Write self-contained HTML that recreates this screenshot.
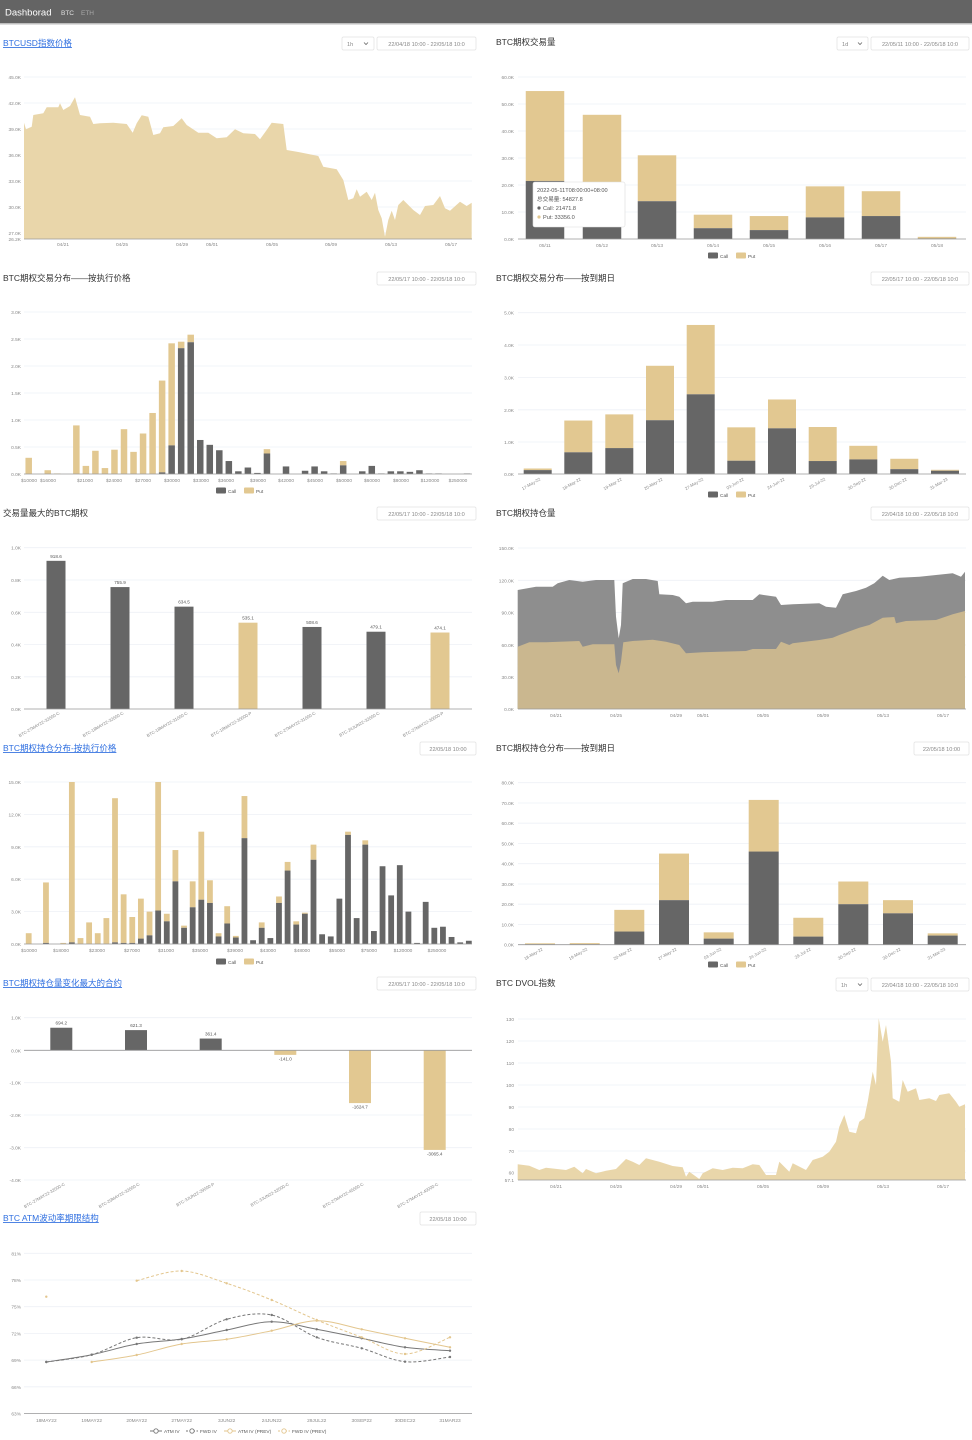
<!DOCTYPE html>
<html><head><meta charset="utf-8">
<style>
html,body{margin:0;padding:0;background:#fff;}
body{width:972px;height:1440px;overflow:hidden;position:relative;font-family:"Liberation Sans","Noto Sans CJK SC",sans-serif;}
svg{position:absolute;left:0;top:0;}
</style></head>
<body>
<svg id="s" width="972" height="1440" viewBox="0 0 972 1440" xmlns="http://www.w3.org/2000/svg" font-family="Liberation Sans, Noto Sans CJK SC, sans-serif">
<rect x="0" y="0" width="972" height="23" fill="#646464"/>
<rect x="0" y="23" width="972" height="1.5" fill="#bdbdbd"/>
<text x="5" y="15.5" font-size="9.5" fill="#fff">Dashborad</text>
<text x="61" y="15" font-size="6.5" fill="#e0e0e0">BTC</text>
<text x="81" y="15" font-size="6.5" fill="#a8a8a8">ETH</text>
<g id="g"></g>
</svg>
<script>
const NS="http://www.w3.org/2000/svg",G=document.getElementById('g');
function el(t,a,txt){const e=document.createElementNS(NS,t);for(const k in a)e.setAttribute(k,a[k]);if(txt!==undefined)e.textContent=txt;G.appendChild(e);return e;}
const CALL="#666666",PUT="#e2c891",GRID="#eef0f6",AX="#9a9a9a",TK="#888";
function title(x,y,t,link){el('text',{x:x,y:y,'font-size':8.5,fill:link?'#2f6fe0':'#333','text-decoration':link?'underline':'none'},t);}
function box(x1,x2,y,t){el('rect',{x:x1,y:y,width:x2-x1,height:13,fill:'#fff',stroke:'#e2e2e2','stroke-width':.7,rx:1.5});el('text',{x:(x1+x2)/2,y:y+8.8,'font-size':5.6,fill:'#888','text-anchor':'middle'},t);}
function sel(x1,x2,y,t){el('rect',{x:x1,y:y,width:x2-x1,height:13,fill:'#fff',stroke:'#e2e2e2','stroke-width':.7,rx:1.5});el('text',{x:x1+5,y:y+8.8,'font-size':5.6,fill:'#888'},t);el('path',{d:`M${x2-10} ${y+5.5} l2 2 l2 -2`,stroke:'#666',fill:'none','stroke-width':.8});}
function yaxis(xl,x1,x2,ticks){ticks.forEach(([y,t])=>{el('line',{x1:x1,x2:x2,y1:y,y2:y,stroke:GRID,'stroke-width':.8});el('text',{x:xl,y:y+2,'font-size':4.8,fill:TK,'text-anchor':'end'},t);});}
function base(x1,x2,y){el('line',{x1:x1,x2:x2,y1:y,y2:y,stroke:AX,'stroke-width':.8});}
function xl(x,y,t){el('text',{x:x,y:y,'font-size':4.8,fill:TK,'text-anchor':'middle'},t);}
function xr(x,y,t){el('text',{x:x,y:y,'font-size':4.3,fill:TK,'text-anchor':'end',transform:`rotate(-30 ${x} ${y})`},t);}
function legend(cx,y){el('rect',{x:cx-27,y:y-3.5,width:10,height:6,fill:CALL,rx:1});el('text',{x:cx-15,y:y+2,'font-size':4.8,fill:'#555'},'Call');el('rect',{x:cx+1,y:y-3.5,width:10,height:6,fill:PUT,rx:1});el('text',{x:cx+13,y:y+2,'font-size':4.8,fill:'#555'},'Put');}
function area(pts,ox,oy,by,fill){let d=`M${ox+pts[0][0]/3} ${by}`;pts.forEach(p=>d+=` L${(ox+p[0]/3).toFixed(1)} ${(oy+p[1]/3).toFixed(1)}`);d+=` L${ox+pts[pts.length-1][0]/3} ${by} Z`;el('path',{d:d,fill:fill});}
function stack(cx,w,by,sc,c,t){if(t>c)el('rect',{x:cx-w/2,y:by-t*sc,width:w,height:(t-c)*sc,fill:PUT});if(c>0)el('rect',{x:cx-w/2,y:by-c*sc,width:w,height:c*sc,fill:CALL});}

/* Panel 1 BTCUSD */
title(3,46,'BTCUSD指数价格',true);sel(342,374,37,'1h');box(377,476,37,'22/04/18 10:00 - 22/05/18 10:0');
yaxis(21,24,472,[[77,'45.0K'],[103,'42.0K'],[129,'39.0K'],[155,'36.0K'],[181,'33.0K'],[207,'30.0K'],[233,'27.0K'],[239,'26.2K']]);
area([[72,368],[78,388],[95,380],[100,345],[130,340],[140,322],[175,322],[180,310],[190,330],[210,318],[225,292],[240,345],[270,350],[280,372],[300,370],[340,368],[380,372],[398,398],[410,370],[425,346],[445,350],[460,405],[480,400],[490,382],[520,378],[545,355],[560,375],[595,398],[625,398],[650,415],[680,412],[705,388],[730,400],[765,402],[780,418],[800,390],[815,368],[850,372],[860,450],[895,456],[955,468],[970,500],[1010,508],[1030,540],[1045,600],[1060,595],[1070,568],[1080,590],[1100,575],[1115,600],[1125,578],[1135,630],[1145,655],[1155,710],[1165,660],[1175,632],[1185,660],[1195,615],[1210,600],[1240,630],[1260,645],[1275,618],[1300,615],[1320,588],[1335,625],[1350,632],[1380,605],[1400,618],[1415,608]],0,0,239,'#e9d6aa');
base(24,472,239);
[[63,'04/21'],[122,'04/25'],[182,'04/29'],[212,'05/01'],[272,'05/05'],[331,'05/09'],[391,'05/13'],[451,'05/17']].forEach(a=>xl(a[0],246,a[1]));

/* Panel 2 volume */
title(496,45,'BTC期权交易量',false);sel(837,868,37,'1d');box(871,969,37,'22/05/11 10:00 - 22/05/18 10:0');
yaxis(514,518,966,[[77,'60.0K'],[104,'50.0K'],[131,'40.0K'],[158,'30.0K'],[185,'20.0K'],[212,'10.0K'],[239,'0.0K']]);
[[545,21.5,54.8],[602,12,46],[657,14,31],[713,4,9],[769,3.3,8.5],[825,8,19.5],[881,8.5,17.7],[937,.2,.8]].forEach(b=>stack(b[0],38.5,239,2.7,b[1],b[2]));
base(518,966,239);
['05/11','05/12','05/13','05/14','05/15','05/16','05/17','05/18'].forEach((t,i)=>xl([545,602,657,713,769,825,881,937][i],247,t));
legend(735,256);
el('rect',{x:533,y:182,width:92,height:45,fill:'#fff',stroke:'#ddd','stroke-width':.6,rx:2});
el('text',{x:537,y:192,'font-size':5.6,fill:'#555'},'2022-05-11T08:00:00+08:00');
el('text',{x:537,y:201,'font-size':5.6,fill:'#555'},'总交易量: 54827.8');
el('circle',{cx:539,cy:208,r:1.6,fill:CALL});el('text',{x:543,y:210,'font-size':5.6,fill:'#555'},'Call: 21471.8');
el('circle',{cx:539,cy:217,r:1.6,fill:PUT});el('text',{x:543,y:219,'font-size':5.6,fill:'#555'},'Put: 33356.0');

/* Panel 3 strike distribution */
title(3,281,'BTC期权交易分布——按执行价格',false);box(377,476,272,'22/05/17 10:00 - 22/05/18 10:0');
yaxis(21,24,472,[[312,'3.0K'],[339,'2.5K'],[366,'2.0K'],[393,'1.5K'],[420,'1.0K'],[447,'0.5K'],[474,'0.0K']]);
const s3=[[0,.3],[0,0],[0,.07],[0,.01],[0,0],[0,.9],[0,.15],[0,.43],[0,.11],[0,.45],[0,.83],[0,.41],[0,.75],[0,1.13],[.03,1.73],[.53,2.42],[2.33,2.45],[2.44,2.58],[.63,.63],[.54,.54],[.44,.44],[.24,.24],[.05,.05],[.12,.12],[.02,.02],[.38,.46],[0,0],[.14,.14],[0,0],[.06,.06],[.14,.14],[.05,.05],[.01,.01],[.16,.24],[0,0],[.05,.05],[.15,.15],[.01,.01],[.05,.05],[.05,.05],[.04,.04],[.07,.07],[.01,.01],[.01,.01],[0,0],[0,0],[.01,.01]];
s3.forEach((b,i)=>stack(28.7+9.53*i,6.5,474,54,b[0],b[1]));
base(24,472,474);
[[29,'$10000'],[48,'$16000'],[85,'$21000'],[114,'$24000'],[143,'$27000'],[172,'$30000'],[201,'$33000'],[226,'$36000'],[258,'$39000'],[286,'$42000'],[315,'$45000'],[344,'$50000'],[372,'$60000'],[401,'$80000'],[430,'$120000'],[458,'$250000']].forEach(a=>xl(a[0],482,a[1]));
legend(243,491);

/* Panel 4 expiry distribution */
title(496,281,'BTC期权交易分布——按到期日',false);box(871,969,272,'22/05/17 10:00 - 22/05/18 10:0');
yaxis(514,518,966,[[312.7,'5.0K'],[345,'4.0K'],[377.5,'3.0K'],[409.8,'2.0K'],[442,'1.0K'],[474,'0.0K']]);
const c4=[537.7,578.3,619.3,660,700.7,741.3,782,822.7,863.3,904.3,945];
[[.12,.17],[.67,1.65],[.8,1.84],[1.66,3.34],[2.46,4.6],[.41,1.44],[1.41,2.3],[.4,1.45],[.45,.87],[.15,.47],[.1,.13]].forEach((b,i)=>stack(c4[i],28,474,32.4,b[0],b[1]));
base(518,966,474);
['17-May-22','18-May-22','19-May-22','20-May-22','27-May-22','03-Jun-22','24-Jun-22','29-Jul-22','30-Sep-22','30-Dec-22','31-Mar-23'].forEach((t,i)=>xr(c4[i]+3,480,t));
legend(735,495);

/* Panel 5 top traded */
title(3,516,'交易量最大的BTC期权',false);box(377,476,507,'22/05/17 10:00 - 22/05/18 10:0');
yaxis(21,24,472,[[547.7,'1.0K'],[580,'0.8K'],[612.3,'0.6K'],[644.5,'0.4K'],[676.8,'0.2K'],[709,'0.0K']]);
const c5=[56,120,184,248,312,376,440],v5=[918.6,755.9,634.5,535.1,508.6,479.1,474.1],col5=[1,1,1,0,1,1,0];
const n5=['BTC-27MAY22-32000-C','BTC-18MAY22-32000-C','BTC-18MAY22-31000-C','BTC-18MAY22-30000-P','BTC-27MAY22-31000-C','BTC-24JUN22-32000-C','BTC-27MAY22-30000-P'];
c5.forEach((x,i)=>{const h=v5[i]/1000*161.3;el('rect',{x:x-9.5,y:709-h,width:19,height:h,fill:col5[i]?CALL:PUT});el('text',{x:x,y:709-h-3,'font-size':4.6,fill:'#555','text-anchor':'middle'},v5[i].toFixed(1));xr(x+4,714,n5[i]);});
base(24,472,709);

/* Panel 6 OI */
title(496,516,'BTC期权持仓量',false);box(871,969,507,'22/04/18 10:00 - 22/05/18 10:0');
yaxis(514,518,966,[[548,'150.0K'],[580.3,'120.0K'],[612.6,'90.0K'],[645,'60.0K'],[677,'30.0K'],[709,'0.0K']]);
area([[95,255],[150,245],[200,245],[215,235],[250,225],[290,230],[330,225],[385,225],[390,335],[398,400],[405,360],[410,235],[440,222],[480,222],[515,228],[520,268],[560,270],[580,275],[600,295],[620,290],[680,290],[720,285],[800,285],[820,268],[870,275],[885,300],[920,298],[1000,295],[1020,305],[1050,308],[1070,268],[1110,258],[1140,248],[1165,235],[1190,212],[1210,225],[1240,218],[1300,215],[1350,210],[1400,205],[1425,215],[1437,200]],486,505,709,'#8e8e8e');
area([[95,425],[130,412],[180,412],[280,408],[290,425],[320,418],[385,418],[390,480],[398,505],[405,470],[412,412],[440,408],[500,404],[540,410],[580,420],[600,445],[650,442],[700,440],[780,438],[800,432],[870,432],[885,410],[910,420],[920,415],[1000,405],[1040,398],[1060,390],[1120,368],[1150,360],[1190,338],[1225,336],[1230,355],[1260,348],[1350,345],[1400,328],[1437,318]],486,505,709,'#cab78f');
base(518,966,709);
const dx=[[556,'04/21'],[616,'04/25'],[676,'04/29'],[703,'05/01'],[763,'05/05'],[823,'05/09'],[883,'05/13'],[943,'05/17']];
dx.forEach(a=>xl(a[0],717,a[1]));

/* Panel 7 holdings by strike */
title(3,751,'BTC期权持仓分布-按执行价格',true);box(420,476,742,'22/05/18 10:00');
yaxis(21,24,472,[[782,'15.0K'],[814.4,'12.0K'],[846.8,'9.0K'],[879.2,'6.0K'],[911.6,'3.0K'],[944,'0.0K']]);
const s7=[[0,1],[0,0],[.1,5.7],[0,0],[0,.1],[.15,15],[0,.55],[0,2],[0,1],[0,2.4],[.15,13.5],[.1,4.6],[.1,2.5],[.5,4.2],[.8,3],[3.1,15],[2.1,2.8],[5.8,8.7],[1.5,1.7],[3.4,5.8],[4.1,10.4],[3.8,5.9],[.7,1],[1.9,3.5],[.6,.75],[9.8,13.7],[.35,.35],[1.5,2],[.55,.55],[3.8,4.4],[6.8,7.6],[1.8,2.1],[2.8,2.9],[7.8,9.2],[.9,.9],[.7,.7],[4.2,4.2],[10.1,10.4],[2.4,2.4],[9.2,9.6],[1.2,1.2],[7.2,7.2],[4.5,4.5],[7.3,7.3],[3,3],[.1,.1],[3.9,3.9],[1.5,1.5],[1.6,1.6],[.65,.65],[.15,.15],[.3,.3]];
s7.forEach((b,i)=>stack(28.7+8.63*i,5.8,944,10.8,b[0],b[1]));
base(24,472,944);
[[29,'$10000'],[61,'$18000'],[97,'$23000'],[132,'$27000'],[166,'$31000'],[200,'$35000'],[235,'$39000'],[268,'$43000'],[302,'$48000'],[337,'$55000'],[369,'$75000'],[403,'$120000'],[437,'$250000']].forEach(a=>xl(a[0],952,a[1]));
legend(243,962);

/* Panel 8 holdings by expiry */
title(496,751,'BTC期权持仓分布——按到期日',false);box(914,969,742,'22/05/18 10:00');
yaxis(514,518,966,[[782.7,'80.0K'],[803,'70.0K'],[823.2,'60.0K'],[843.5,'50.0K'],[863.7,'40.0K'],[884,'30.0K'],[904.2,'20.0K'],[924.5,'10.0K'],[944.7,'0.0K']]);
const c8=[540,584.7,629.3,674,718.7,763.7,808.3,853.3,898,942.7];
[[.2,.7],[.2,.8],[6.5,17.2],[22,45],[3,6.1],[46,71.5],[4,13.3],[20,31.2],[15.5,22],[4.5,5.6]].forEach((b,i)=>stack(c8[i],30,944.7,2.025,b[0],b[1]));
base(518,966,944.7);
['18-May-22','19-May-22','20-May-22','27-May-22','03-Jun-22','24-Jun-22','29-Jul-22','30-Sep-22','30-Dec-22','31-Mar-23'].forEach((t,i)=>xr(c8[i]+3,950,t));
legend(735,965);

/* Panel 9 OI change */
title(3,986,'BTC期权持仓量变化最大的合约',true);box(377,476,977,'22/05/17 10:00 - 22/05/18 10:0');
yaxis(21,24,472,[[1017.7,'1.0K'],[1050.3,'0.0K'],[1082.7,'-1.0K'],[1115,'-2.0K'],[1147.7,'-3.0K'],[1180,'-4.0K']]);
const c9=[61.3,136,210.7,285.3,360,434.7],v9=[694.2,621.3,361.4,-141.0,-1624.7,-3065.4];
const n9=['BTC-27MAY22-32000-C','BTC-20MAY22-32000-C','BTC-3JUN22-29000-P','BTC-3JUN22-32000-C','BTC-27MAY22-45000-C','BTC-27MAY22-40000-C'];
c9.forEach((x,i)=>{const v=v9[i],h=Math.abs(v)/1000*32.5;if(v>0){el('rect',{x:x-11,y:1050.3-h,width:22,height:h,fill:CALL});el('text',{x:x,y:1050.3-h-3,'font-size':4.6,fill:'#555','text-anchor':'middle'},v.toFixed(1));}else{el('rect',{x:x-11,y:1050.3,width:22,height:h,fill:PUT});el('text',{x:x,y:1050.3+h+5.5,'font-size':4.6,fill:'#555','text-anchor':'middle'},v.toFixed(1));}xr(x+4,1185,n9[i]);});
base(24,472,1050.3);

/* Panel 10 DVOL */
title(496,986,'BTC DVOL指数',false);sel(836,868,978,'1h');box(871,969,978,'22/04/18 10:00 - 22/05/18 10:0');
yaxis(514,518,966,[[1019,'130'],[1041,'120'],[1063,'110'],[1085,'100'],[1107,'90'],[1129,'80'],[1151,'70'],[1172.7,'60'],[1180,'57.1']]);
area([[95,568],[130,572],[160,585],[180,578],[240,585],[265,575],[290,595],[300,582],[330,595],[360,587],[390,582],[420,552],[440,560],[460,570],[480,550],[520,560],[560,573],[590,577],[600,605],[610,590],[640,612],[650,595],[680,580],[710,585],[740,578],[770,580],[800,568],[820,570],[840,600],[870,600],[880,560],[910,590],[920,565],[960,585],[980,555],[1010,545],[1030,530],[1050,500],[1060,455],[1075,420],[1090,470],[1110,475],[1120,440],[1135,430],[1145,380],[1160,290],[1170,330],[1178,130],[1190,200],[1200,150],[1215,260],[1220,370],[1240,380],[1250,315],[1265,350],[1290,340],[1300,375],[1330,370],[1350,378],[1360,360],[1390,355],[1410,380],[1420,395],[1437,388]],486,975,1180,'#e9d6aa');
base(518,966,1180);
dx.forEach(a=>xl(a[0],1188,a[1]));

/* Panel 11 ATM term structure */
title(3,1221,'BTC ATM波动率期限结构',true);box(420,476,1212,'22/05/18 10:00');
yaxis(21,24,472,[[1253.3,'81%'],[1280,'78%'],[1306.7,'75%'],[1333.4,'72%'],[1360.1,'69%'],[1386.8,'66%'],[1413.5,'63%']]);
base(24,472,1413.5);
const cx=[46.3,91.7,136.7,181.7,226.7,271.7,316.7,361.7,405,450];
['18MAY22','19MAY22','20MAY22','27MAY22','3JUN22','24JUN22','29JUL22','30SEP22','30DEC22','31MAR23'].forEach((t,i)=>xl(cx[i],1422,t));
function smooth(p){let d=`M${p[0][0]} ${p[0][1]}`;for(let i=0;i<p.length-1;i++){const p0=p[i-1]||p[i],p1=p[i],p2=p[i+1],p3=p[i+2]||p2;const a=[p1[0]+(p2[0]-p0[0])/6,p1[1]+(p2[1]-p0[1])/6],b=[p2[0]-(p3[0]-p1[0])/6,p2[1]-(p3[1]-p1[1])/6];d+=` C${a[0]} ${a[1]} ${b[0]} ${b[1]} ${p2[0]} ${p2[1]}`;}return d;}
function line(idx,ys,col,dash){const p=idx.map((k,i)=>[cx[k],ys[i]]);el('path',{d:smooth(p),fill:'none',stroke:col,'stroke-width':1,'stroke-dasharray':dash?'3 2':'none'});p.forEach(q=>el('circle',{cx:q[0],cy:q[1],r:1.2,fill:col}));}
const GC="#777",TC="#e3c68e";
line([0,1,2,3,4,5,6,7,8,9],[1362,1354.7,1344,1339,1330,1321.7,1329.3,1338.3,1347.3,1350.7],GC,false);
line([0,1,2,3,4,5,6,7,8,9],[1362,1354.7,1337.7,1339.3,1319.3,1315,1337.3,1348.3,1361.7,1357],GC,true);
line([1,2,3,4,5,6,7,8,9],[1362,1355,1344,1339.3,1330.7,1320.7,1329.3,1338.3,1347.3],TC,false);
line([2,3,4,5,6,7,8,9],[1280.7,1271,1283.3,1300,1320,1337.3,1354,1337.3],TC,true);
el('circle',{cx:46.3,cy:1296.7,r:1.2,fill:TC});
// legend
[[150,GC,false,'ATM IV'],[186,GC,true,'FWD IV'],[224,TC,false,'ATM IV (PREV)'],[278,TC,true,'FWD IV (PREV)']].forEach(l=>{el('line',{x1:l[0],x2:l[0]+12,y1:1431,y2:1431,stroke:l[1],'stroke-width':1,'stroke-dasharray':l[2]?'2 1.5':'none'});el('circle',{cx:l[0]+6,cy:1431,r:2.2,fill:'#fff',stroke:l[1],'stroke-width':.9});el('text',{x:l[0]+14,y:1433,'font-size':4.8,fill:'#555'},l[3]);});
</script>
</body></html>
